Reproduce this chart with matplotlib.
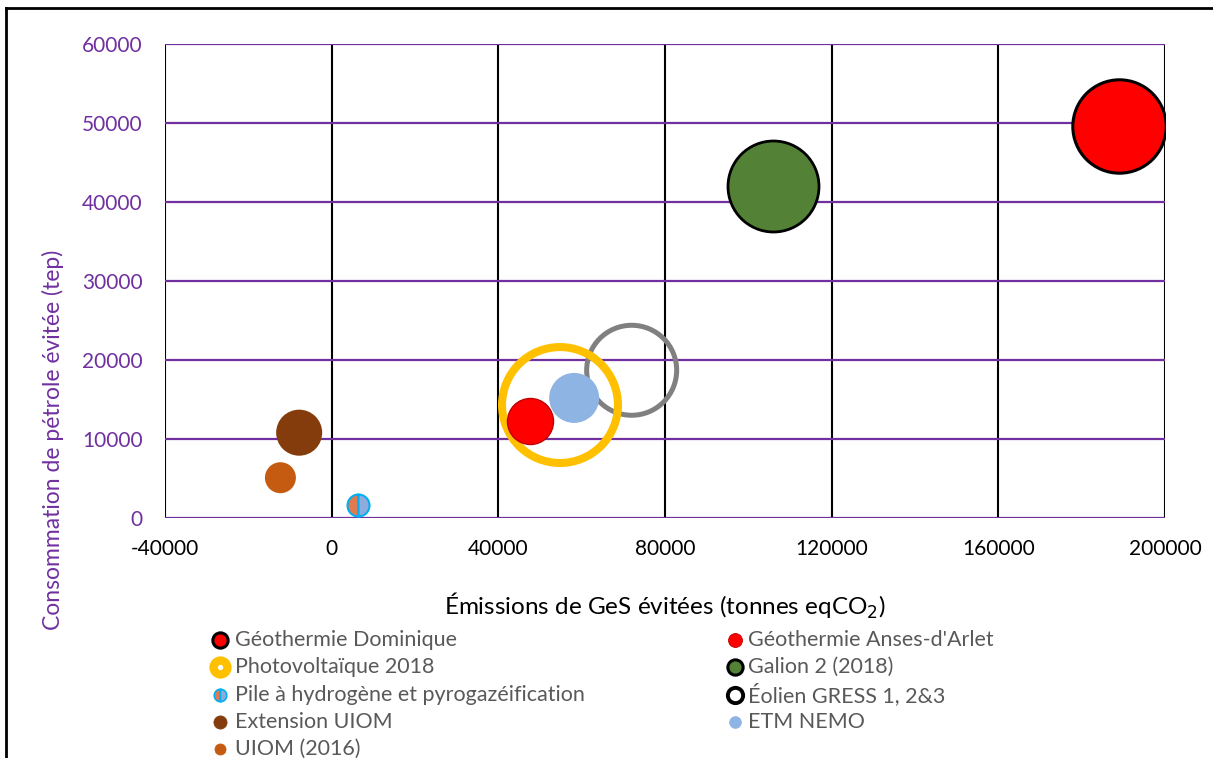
import matplotlib.pyplot as plt
from matplotlib.lines import Line2D

plt.rcParams['font.family'] = ['Lato', 'DejaVu Sans']
plt.rcParams['axes.unicode_minus'] = False

# Données
projets = ["Géothermie Dominique", "Galion 2 (2018)", "Éolien GRESS 1, 2&3",
           "Photovoltaïque 2018", "ETM NEMO", "Géothermie Anses-d'Arlet",
           "Extension UIOM", "UIOM (2016)", "Pile à hydrogène et pyrogazéification"]
ges_evitees = [189000, 106000, 72000, 54800, 58200, 47500, -7800, -12300, 6400]
petrole_evite = [49600, 42000, 18700, 14300, 15200, 12300, 10800, 5100, 1700]
taille_bulle = [2180, 2070, 2025, 3360, 625, 530, 530, 240, 121]

x_ticks = [-40000, 0, 40000, 80000, 120000, 160000, 200000]
y_ticks = [0, 10000, 20000, 30000, 40000, 50000, 60000]

violet = '#7030A0'
gris_texte = '#595959'

# styles : (face, bord, epaisseur bord)
styles = {
    "Géothermie Dominique": ('#FF0000', 'black', 2.2),
    "Galion 2 (2018)": ('#538135', 'black', 2.0),
    "Éolien GRESS 1, 2&3": ('none', '#808080', 3.6),
    "Photovoltaïque 2018": ('none', '#FFC000', 5.8),
    "ETM NEMO": ('#8EB4E3', 'none', 0),
    "Géothermie Anses-d'Arlet": ('#FF0000', '#C00000', 1.0),
    "Extension UIOM": ('#843C0C', 'none', 0),
    "UIOM (2016)": ('#C55A11', 'none', 0),
}

fig = plt.figure(figsize=(12.13, 7.58), dpi=100)
W, H = 1213, 758
ax = fig.add_axes([165 / W, 1 - 518 / H, 1000 / W, 474 / H])

# quadrillage
for xv in x_ticks:
    ax.axvline(xv, color='black', lw=1.5, zorder=1)
for yv in y_ticks:
    ax.axhline(yv, color=violet, lw=1.6, zorder=1.5)

px2 = 4 * 0.72 ** 2  # rayon px -> aire en points^2
for i, nom in enumerate(projets):
    if nom.startswith("Pile"):
        d = (taille_bulle[i] ** 0.5) * 2 * 0.72
        ax.plot(ges_evitees[i], petrole_evite[i], 'o', ms=d, fillstyle='left',
                markerfacecolor='#E07B4F', markerfacecoloralt='#8FAADC',
                markeredgecolor='#00B0F0', markeredgewidth=1.5, zorder=3)
        continue
    fc, ec, lw = styles[nom]
    ax.scatter(ges_evitees[i], petrole_evite[i], s=taille_bulle[i] * px2,
               facecolor=fc, edgecolor=ec, linewidth=lw, zorder=3)

ax.set_xlim(-40000, 200000)
ax.set_ylim(0, 60000)
ax.set_xticks(x_ticks)
ax.set_yticks(y_ticks)
ax.tick_params(length=0, labelsize=15)
ax.tick_params(axis='y', labelcolor=violet, pad=16)
ax.tick_params(axis='x', pad=15)
for s in ax.spines.values():
    s.set_visible(False)

fig.text(665 / W, 1 - 606 / H, "Émissions de GeS évitées (tonnes eqCO$_2$)",
         ha='center', va='center', fontsize=17.5)
fig.text(53 / W, 1 - 440 / H, "Consommation de pétrole évitée (tep)",
         ha='center', va='center', rotation=90, fontsize=16.5, color=violet)

# légende (deux colonnes placées à la main)
legende = [
    # (texte, colonne, ligne, face, bord, ep, taille, alt)
    ("Géothermie Dominique", 0, 0, '#FF0000', 'black', 2.2, 11, None),
    ("Photovoltaïque 2018", 0, 1, 'white', '#FFC000', 6, 10, None),
    ("Pile à hydrogène et pyrogazéification", 0, 2, '#E07B4F', '#00B0F0', 1.2, 9, '#8FAADC'),
    ("Extension UIOM", 0, 3, '#843C0C', '#843C0C', 0.5, 9.5, None),
    ("UIOM (2016)", 0, 4, '#C55A11', '#C55A11', 0.5, 8, None),
    ("Géothermie Anses-d'Arlet", 1, 0, '#FF0000', '#C00000', 0.6, 10, None),
    ("Galion 2 (2018)", 1, 1, '#538135', 'black', 2.2, 11, None),
    ("Éolien GRESS 1, 2&3", 1, 2, 'white', 'black', 2.8, 11, None),
    ("ETM NEMO", 1, 3, '#8EB4E3', '#8EB4E3', 0.5, 8.5, None),
]
col_marq = [220, 735]
col_txt = [235, 748]
for texte, c, l, fc, ec, ep, ms, alt in legende:
    y = 1 - (640 + 27.3 * l) / H
    kw = dict(fillstyle='left', markerfacecoloralt=alt) if alt else {}
    fig.add_artist(Line2D([col_marq[c] / W], [y], ls='none', marker='o', markersize=ms,
                          markerfacecolor=fc, markeredgecolor=ec, markeredgewidth=ep,
                          transform=fig.transFigure, **kw))
    fig.text(col_txt[c] / W, y, texte, ha='left', va='center', fontsize=15.5,
             color=gris_texte)

# bordure du cadre
fig.add_artist(Line2D([6 / W, 6 / W], [0, 1 - 8 / H], color='black', lw=2,
                      transform=fig.transFigure))
fig.add_artist(Line2D([6 / W, 1], [1 - 8 / H, 1 - 8 / H], color='black', lw=2,
                      transform=fig.transFigure))

fig.savefig('out.png', dpi=100)
